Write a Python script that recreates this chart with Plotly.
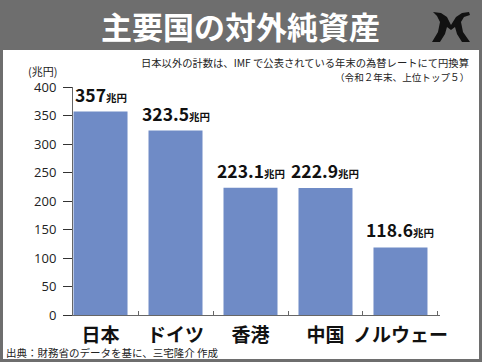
import plotly.graph_objects as go

categories = ["日本", "ドイツ", "香港", "中国", "ノルウェー"]
values = [357, 323.5, 223.1, 222.9, 118.6]
value_labels = ["357", "323.5", "223.1", "222.9", "118.6"]
y_ticks = [0, 50, 100, 150, 200, 250, 300, 350, 400]

W, H = 482, 362
L, R, T, B = 73, 42, 87, 47
PW, PH = W - L - R, H - T - B

def px2x(px):
    return (px - L) / PW

def py2y(py):
    return (H - B - py) / PH

JP = "Noto Sans CJK JP"

fig = go.Figure()
fig.add_trace(go.Bar(
    x=categories, y=values, width=0.72,
    marker=dict(color="#6f8bc6", line=dict(width=0)),
    hoverinfo="skip",
))

annotations = []
for c, v, lab in zip(categories, values, value_labels):
    annotations.append(dict(
        x=c, y=v, xref="x", yref="y", xanchor="center", yanchor="bottom",
        text=f"<b>{lab}</b><span style='font-size:10.5px'><b>兆円</b></span>",
        showarrow=False, yshift=3,
        font=dict(family=JP, size=17.5, color="#111"),
    ))

# title
annotations.append(dict(x=px2x(240), y=py2y(25), xref="paper", yref="paper",
                        xanchor="center", yanchor="middle", showarrow=False,
                        text="<b>主要国の対外純資産</b>",
                        font=dict(family=JP, size=31, color="white")))
annotations.append(dict(x=px2x(471), y=py2y(62), xref="paper", yref="paper",
                        xanchor="right", yanchor="middle", showarrow=False,
                        text="日本以外の計数は、IMF で公表されている年末の為替レートにて円換算",
                        font=dict(family=JP, size=10.3, color="#222")))
annotations.append(dict(x=px2x(471), y=py2y(77), xref="paper", yref="paper",
                        xanchor="right", yanchor="middle", showarrow=False,
                        text="（令和２年末、上位トップ５）",
                        font=dict(family=JP, size=9.6, color="#222")))
annotations.append(dict(x=px2x(26), y=py2y(71), xref="paper", yref="paper",
                        xanchor="left", yanchor="middle", showarrow=False,
                        text="(兆円)",
                        font=dict(family=JP, size=11, color="#222")))
annotations.append(dict(x=px2x(4), y=py2y(352), xref="paper", yref="paper",
                        xanchor="left", yanchor="middle", showarrow=False,
                        text="出典：財務省のデータを基に、三宅隆介 作成",
                        font=dict(family=JP, size=10.5, color="#222")))

# logo path
logo_pts = [(433, 12), (441, 13), (447, 17), (451, 25), (456, 17), (462, 13), (469, 12),
            (470, 15), (464, 17), (461, 22), (463, 32), (470, 42), (462, 42), (457, 34),
            (455, 27), (451, 30), (447, 27), (445, 34), (440, 42), (432, 42), (438, 32),
            (440, 22), (437, 16)]
path = "M " + " L ".join(f"{px2x(a):.5f},{py2y(b):.5f}" for a, b in logo_pts) + " Z"

shapes = [
    dict(type="rect", xref="paper", yref="paper", x0=px2x(3), x1=px2x(479),
         y0=py2y(50), y1=py2y(359), fillcolor="white", line=dict(width=0), layer="below"),
    dict(type="path", xref="paper", yref="paper", path=path, fillcolor="#111",
         line=dict(width=0)),
]

fig.update_layout(
    width=W, height=H, autosize=False,
    margin=dict(l=L, r=R, t=T, b=B, pad=0, autoexpand=False),
    paper_bgcolor="#6e6e6e", plot_bgcolor="white",
    showlegend=False, bargap=0.28,
    annotations=annotations, shapes=shapes,
    xaxis=dict(range=[-0.367, 4.527], showgrid=False, zeroline=False,
               showline=True, linecolor="#666", linewidth=1,
               ticks="inside", ticklen=4, tickcolor="#666", tickson="boundaries",
               tickangle=0, automargin=False, ticklabelstandoff=3,
               tickfont=dict(family=JP, size=19, color="#111"),
               tickprefix="<b>", ticksuffix="</b>", fixedrange=True),
    yaxis=dict(range=[0, 400], tickvals=y_ticks, showgrid=False, zeroline=False,
               showline=True, linecolor="#666", linewidth=1,
               ticks="outside", ticklen=9, tickcolor="#333", automargin=False,
               tickfont=dict(family="Open Sans", size=13, color="#222"),
               ticklabelstandoff=4, fixedrange=True),
)

fig.write_html("out.html", config={"displayModeBar": False},
               post_script="document.body.style.margin='0px';document.body.style.overflow='hidden';")
